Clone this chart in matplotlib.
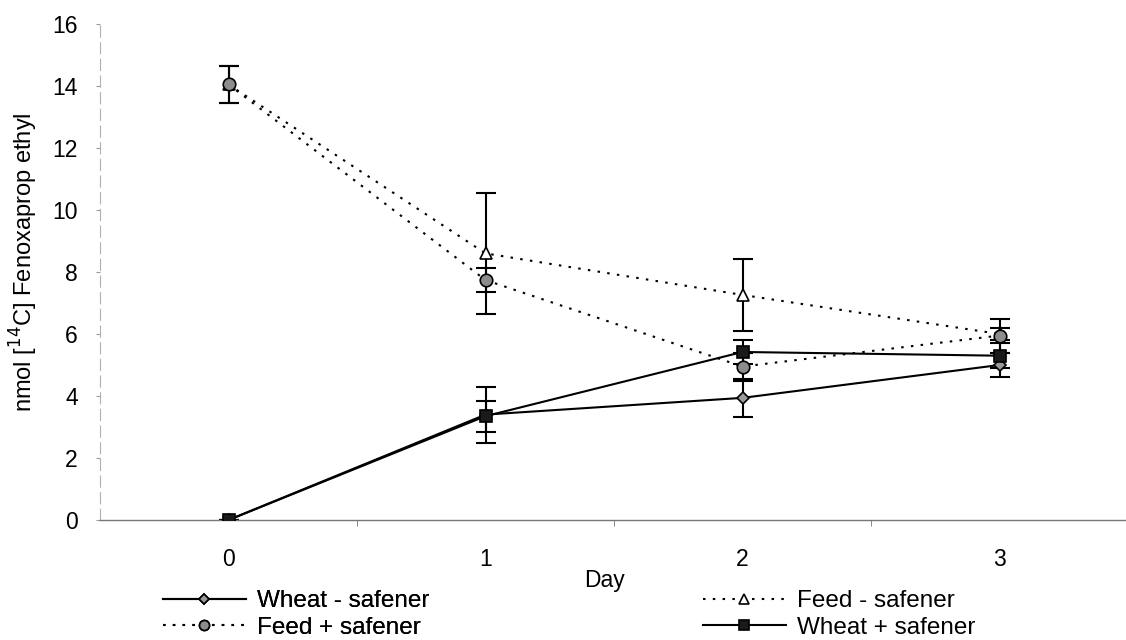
import matplotlib as mpl
import matplotlib.pyplot as plt

mpl.rcParams['font.family'] = ['Liberation Sans', 'DejaVu Sans']

days = [0, 1, 2, 3]

wheat_minus = [0.0, 3.4, 3.94, 5.0]
wheat_minus_err = [0.0, 0.9, 0.62, 0.38]
feed_minus = [14.05, 8.6, 7.26, 6.0]
feed_minus_err = [0.6, 1.95, 1.16, 0.2]
feed_plus = [14.05, 7.74, 4.95, 5.95]
feed_plus_err = [0.6, 0.4, 0.45, 0.55]
wheat_plus = [0.0, 3.35, 5.42, 5.3]
wheat_plus_err = [0.0, 0.5, 0.38, 0.4]

fig = plt.figure(figsize=(11.26, 6.4), dpi=100)
ax = fig.add_axes([100 / 1126, 120 / 640, 1028 / 1126, 496 / 640])

dots = (0, (1.2, 3.5))
series = [
    ("Wheat - safener", wheat_minus, wheat_minus_err, '-', 'D', '#9a9a9a', 6),
    ("Feed - safener", feed_minus, feed_minus_err, dots, '^', 'white', 9),
    ("Feed + safener", feed_plus, feed_plus_err, dots, 'o', '#8c8c8c', 9),
    ("Wheat + safener", wheat_plus, wheat_plus_err, '-', 's', '#1a1a1a', 9),
]

handles = {}
for label, vals, err, ls, mk, fc, ms in series:
    ax.errorbar(days, vals, yerr=err, fmt='none', ecolor='black',
                elinewidth=1.5, capsize=7, capthick=1.5, zorder=2)
    line, = ax.plot(days, vals, linestyle=ls, color='black', linewidth=1.5,
                    marker=mk, markersize=ms, markerfacecolor=fc,
                    markeredgecolor='black', markeredgewidth=1.2, zorder=3)
    handles[label] = line

ax.set_xlim(-0.5, 3.5)
ax.set_ylim(0, 16)
ax.set_xticks(days)
ax.set_xticks([0.5, 1.5, 2.5], minor=True)
ax.set_yticks(range(0, 17, 2))
ax.tick_params(axis='x', which='major', length=0, labelsize=16.5, pad=20)
ax.tick_params(axis='x', which='minor', length=4, color='#777777', direction='out')
ax.tick_params(axis='y', length=3, color='#999999', labelsize=16.5, pad=13)

for side in ['top', 'right']:
    ax.spines[side].set_visible(False)
ax.spines['left'].set_color('#b0b0b0')
ax.spines['left'].set_linewidth(0.8)
ax.spines['left'].set_linestyle((0, (10, 5)))
ax.spines['bottom'].set_color('#777777')
ax.spines['bottom'].set_linewidth(1.0)

ax.set_ylabel("nmol [$^{14}$C] Fenoxaprop ethyl", fontsize=17)
ax.yaxis.set_label_coords(-0.058, 0.52)
fig.text(605 / 1126, 1 - 580 / 640, "Day", fontsize=16.5, ha='center', va='center')

legend_kw = dict(loc='upper left', frameon=False, fontsize=17.5, handlelength=3.4,
                 handletextpad=0.45, labelspacing=0.2, borderpad=0, borderaxespad=0,
                 markerscale=0.8)
left_names = ["Wheat - safener", "Feed + safener"]
right_names = ["Feed - safener", "Wheat + safener"]
leg1 = fig.legend([handles[n] for n in left_names], left_names,
                  bbox_to_anchor=(163 / 1126, 1 - 590 / 640), **legend_kw)
leg2 = fig.legend([handles[n] for n in right_names], right_names,
                  bbox_to_anchor=(703 / 1126, 1 - 590 / 640), **legend_kw)
fig.add_artist(leg1)

fig.savefig("out.png", dpi=100)
